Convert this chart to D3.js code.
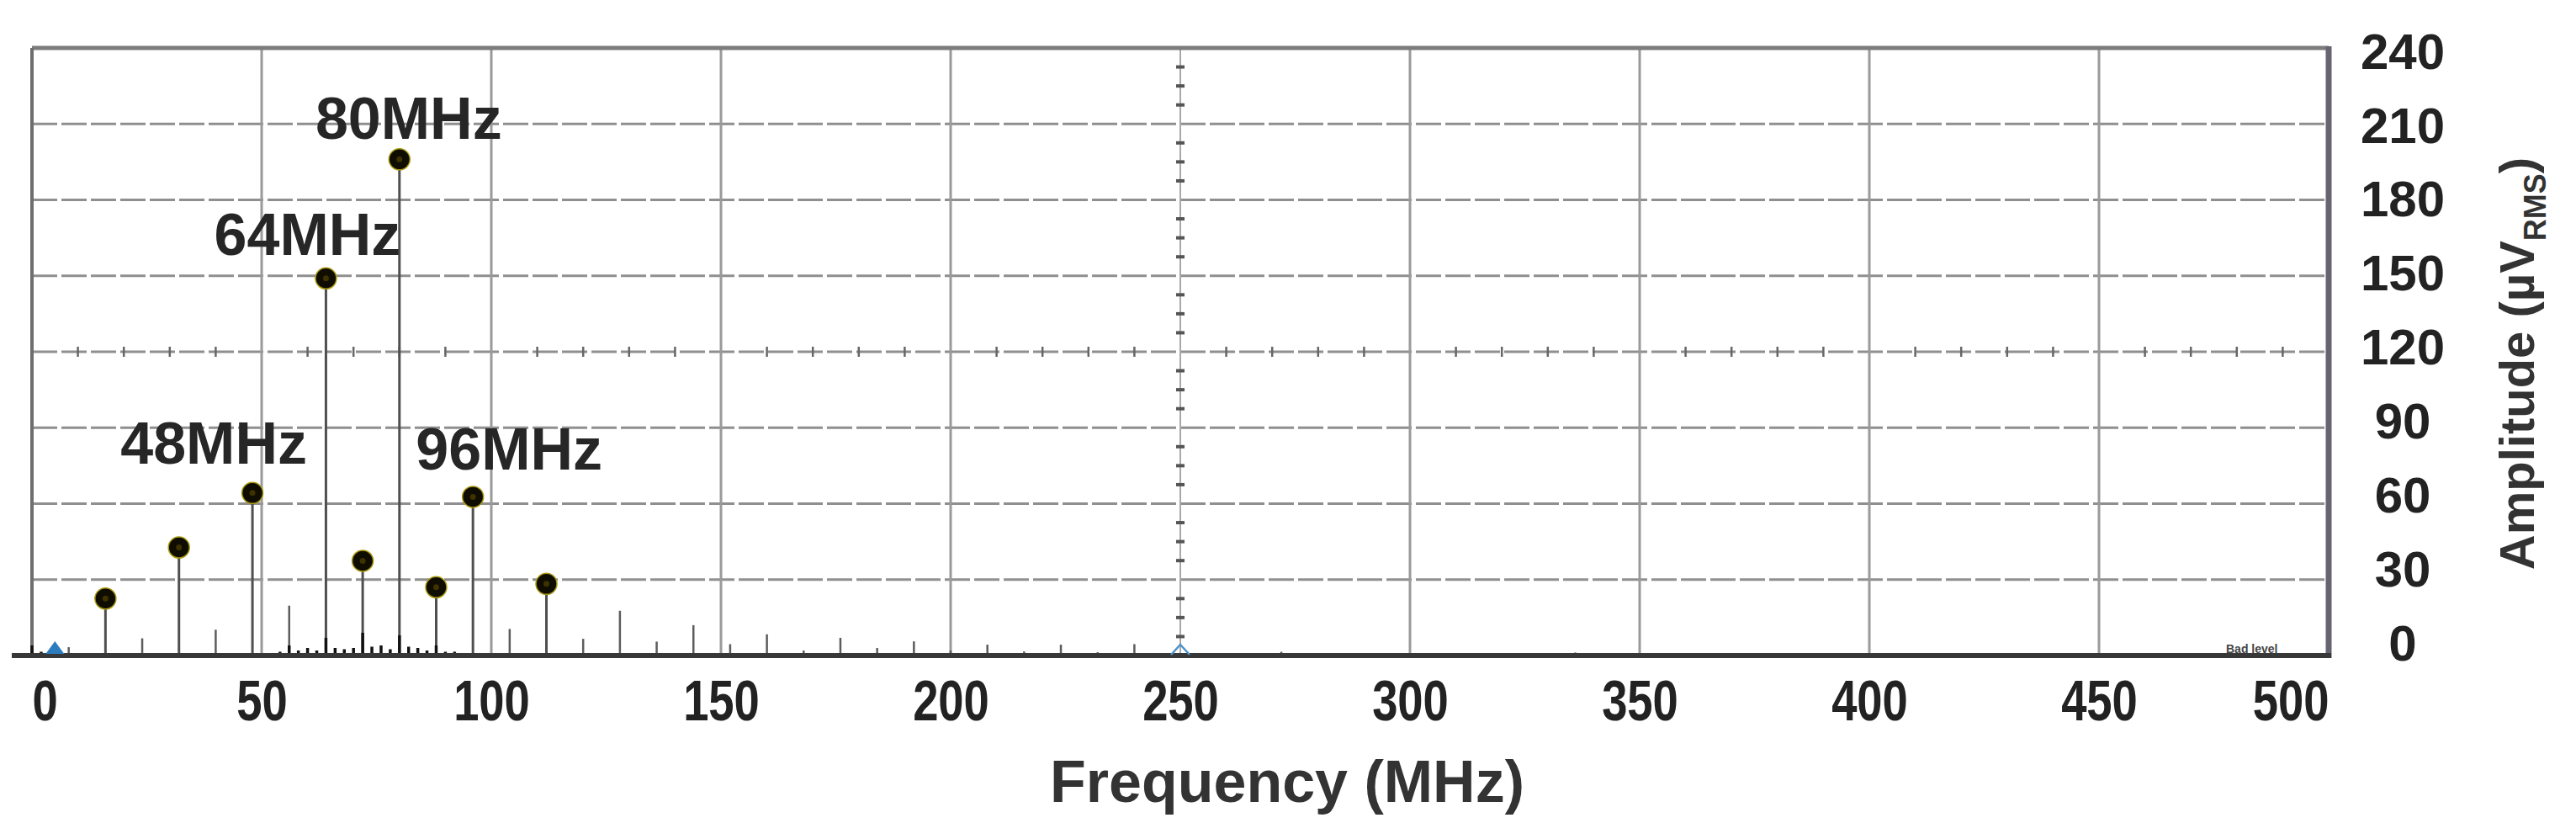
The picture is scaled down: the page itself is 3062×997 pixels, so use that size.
<!DOCTYPE html>
<html><head><meta charset="utf-8">
<script src="https://cdn.jsdelivr.net/npm/d3@7"></script>
<style>html,body{margin:0;padding:0;background:#fff;}svg{display:block;}</style>
</head><body>
<script>
// ---- data ----
const markerFreqs = [16, 32, 48, 64, 72, 80, 88, 96, 112];
const markerAmps  = [22.5, 42.7, 64.2, 149, 37.4, 196, 27, 62.7, 28.3];
const spurFreqs = [8, 24, 40, 56, 104, 120, 128, 136, 144, 152, 160, 168, 176, 184, 192, 200, 208, 216, 224, 232, 240, 256, 272, 336];
const spurAmps  = [3.3, 6.8, 10.2, 19.7, 10.5, 6.6, 17.7, 5.5, 12, 4.5, 8.4, 2, 7, 3, 5.6, 2, 4.3, 1.6, 4.3, 1.3, 4.5, 1, 1.5, 1.2];
const noiseFreqs = [0, 2, 54, 56, 58, 60, 62, 64, 66, 68, 70, 72, 74, 76, 78, 80, 82, 84, 86, 88, 90, 92];
const noiseAmps  = [4, 1.5, 1.5, 4, 2, 3, 2, 7, 3, 2.5, 3, 9, 3.5, 4, 2.5, 8, 3.5, 3, 2, 4, 1.5, 1.5];
const labelFreqs = [48, 64, 80, 96];
const labelAmps  = [64.2, 149, 196, 62.7];
const labelTexts = ["48MHz", "64MHz", "80MHz", "96MHz"];
const xTicks = [0, 50, 100, 150, 200, 250, 300, 350, 400, 450, 500];
const yTicks = [0, 30, 60, 90, 120, 150, 180, 210, 240];
const xTitle = "Frequency (MHz)";
const yTitleMain = "Amplitude (µV";
const yTitleSub = "RMS";
const cursorFreqs = [5, 250];

// ---- layout ----
const W = 3062, H = 997;
const L = {x0: 38, x1: 2768, y0: 779, y1: 57};
const labelOffsets = [[-46, -35], [-22, -28], [11, -24], [43, -32]];
const FONT = "'Liberation Sans', Arial, Helvetica, sans-serif";

const svg = d3.select("body").append("svg").attr("width", W).attr("height", H)
  .style("font-family", FONT);
svg.append("rect").attr("width", W).attr("height", H).attr("fill", "#fff");

const x = d3.scaleLinear().domain([0, 500]).range([L.x0, L.x1]);
const y = d3.scaleLinear().domain([0, 240]).range([L.y0, L.y1]);
const yLab = d3.scaleLinear().domain([0, 240]).range([765, 62]);

// ---- grid ----
const grid = svg.append("g");
grid.selectAll("line.hg").data(yTicks.filter(v => v > 0 && v < 240)).join("line")
  .attr("x1", L.x0).attr("x2", L.x1).attr("y1", d => y(d)).attr("y2", d => y(d))
  .attr("stroke", "#8f8f8f").attr("stroke-width", 3).attr("stroke-dasharray", "30,5");
grid.selectAll("line.vg").data(xTicks.filter(v => v > 0 && v < 500 && v !== 250)).join("line")
  .attr("x1", d => x(d)).attr("x2", d => x(d)).attr("y1", L.y1).attr("y2", L.y0)
  .attr("stroke", "#9a9a9a").attr("stroke-width", 3);
// center vertical (250) with minor ticks
grid.append("line").attr("x1", x(250)).attr("x2", x(250)).attr("y1", L.y1).attr("y2", L.y0)
  .attr("stroke", "#a8a8a8").attr("stroke-width", 2);
grid.selectAll("line.vt").data(d3.range(7.5, 240, 7.5).filter(v => v % 30 !== 0)).join("line")
  .attr("x1", x(250) - 5).attr("x2", x(250) + 5).attr("y1", d => y(d)).attr("y2", d => y(d))
  .attr("stroke", "#555").attr("stroke-width", 4);
// center horizontal (120) minor ticks
grid.selectAll("line.ht").data(d3.range(10, 500, 10).filter(v => v % 50 !== 0)).join("line")
  .attr("x1", d => x(d)).attr("x2", d => x(d)).attr("y1", y(120) - 6).attr("y2", y(120) + 6)
  .attr("stroke", "#666").attr("stroke-width", 2.5);

// ---- frame ----
svg.append("line").attr("x1", L.x0).attr("x2", L.x1).attr("y1", L.y1).attr("y2", L.y1)
  .attr("stroke", "#7c7c7c").attr("stroke-width", 5);
svg.append("line").attr("x1", L.x0).attr("x2", L.x0).attr("y1", L.y1).attr("y2", L.y0)
  .attr("stroke", "#6e6e6e").attr("stroke-width", 4);
svg.append("line").attr("x1", L.x1).attr("x2", L.x1).attr("y1", L.y1 - 2).attr("y2", L.y0 + 3)
  .attr("stroke", "#686370").attr("stroke-width", 7);

// ---- spectrum ----
const g = svg.append("g");
g.selectAll("line.sp").data(spurFreqs.map((f, i) => [f, spurAmps[i]])).join("line")
  .attr("x1", d => x(d[0])).attr("x2", d => x(d[0])).attr("y1", y(0)).attr("y2", d => y(d[1]))
  .attr("stroke", "#5c5c5c").attr("stroke-width", 2.5);
g.selectAll("line.st").data(markerFreqs.map((f, i) => [f, markerAmps[i]])).join("line")
  .attr("x1", d => x(d[0])).attr("x2", d => x(d[0])).attr("y1", y(0)).attr("y2", d => y(d[1]))
  .attr("stroke", "#4f4f4f").attr("stroke-width", 3);
g.selectAll("line.nz").data(noiseFreqs.map((f, i) => [f, noiseAmps[i]])).join("line")
  .attr("x1", d => x(d[0])).attr("x2", d => x(d[0])).attr("y1", y(0)).attr("y2", d => y(d[1]))
  .attr("stroke", "#111").attr("stroke-width", 3.5);

// bottom axis line
svg.append("line").attr("x1", 14).attr("x2", L.x1 + 3).attr("y1", L.y0).attr("y2", L.y0)
  .attr("stroke", "#383838").attr("stroke-width", 6);

// cursors
svg.append("path")
  .attr("d", `M${x(cursorFreqs[0]) - 11},${L.y0 - 2} L${x(cursorFreqs[0])},${L.y0 - 17} L${x(cursorFreqs[0]) + 11},${L.y0 - 2} Z`)
  .attr("fill", "#2b7bbd");
svg.append("path")
  .attr("d", `M${x(cursorFreqs[1]) - 11},${L.y0 - 1} L${x(cursorFreqs[1])},${L.y0 - 13} L${x(cursorFreqs[1]) + 11},${L.y0 - 1}`)
  .attr("fill", "none").attr("stroke", "#4c92c9").attr("stroke-width", 2.5);

// markers
const mk = g.selectAll("g.mk").data(markerFreqs.map((f, i) => [f, markerAmps[i]])).join("g")
  .attr("transform", d => `translate(${x(d[0])},${y(d[1])})`);
mk.append("circle").attr("r", 12.5).attr("fill", "#0f0c00").attr("stroke", "#a89a10").attr("stroke-width", 1.5);
mk.append("circle").attr("r", 3.5).attr("fill", "#3d3200");

// annotations
svg.selectAll("text.ann").data(labelTexts).join("text")
  .attr("x", (d, i) => x(labelFreqs[i]) + labelOffsets[i][0])
  .attr("y", (d, i) => y(labelAmps[i]) + labelOffsets[i][1])
  .attr("text-anchor", "middle").attr("font-size", 70).attr("font-weight", "bold")
  .attr("fill", "#262626").text(d => d);

// tiny status text bottom right
svg.append("text").attr("x", 2646).attr("y", 776).attr("font-size", 14).attr("font-weight", "bold")
  .attr("fill", "#444").text("Bad level");

// ---- axes ----
const xAxis = svg.append("g").attr("transform", `translate(0,${L.y0})`)
  .call(d3.axisBottom(x).tickValues(xTicks).tickSize(0).tickPadding(29).tickFormat(d3.format("d")));
xAxis.select(".domain").remove();
xAxis.selectAll("text").attr("font-size", 68).attr("font-weight", "bold").attr("fill", "#222")
  .attr("font-family", FONT)
  .attr("text-anchor", (d, i) => i === 0 ? "start" : (i === xTicks.length - 1 ? "end" : "middle"))
  .attr("transform", "scale(0.8,1)");

const yAxis = svg.append("g").attr("transform", `translate(2856,0)`)
  .call(d3.axisRight(yLab).tickValues(yTicks).tickSize(0).tickPadding(0).tickFormat(d3.format("d")));
yAxis.select(".domain").remove();
yAxis.selectAll("text").attr("font-size", 60).attr("font-weight", "bold").attr("fill", "#222")
  .attr("font-family", FONT).attr("text-anchor", "middle").attr("x", 0);

// titles
svg.append("text").attr("x", 1530).attr("y", 953).attr("text-anchor", "middle")
  .attr("font-size", 70).attr("font-weight", "bold").attr("fill", "#333").text(xTitle);
const yt = svg.append("text").attr("transform", "translate(3012,432) rotate(-90)")
  .attr("text-anchor", "middle").attr("font-size", 58).attr("font-weight", "bold").attr("fill", "#333");
yt.append("tspan").text(yTitleMain);
yt.append("tspan").attr("font-size", 36).attr("dy", 14).text(yTitleSub);
yt.append("tspan").attr("dy", -14).text(")");
</script>
</body></html>
